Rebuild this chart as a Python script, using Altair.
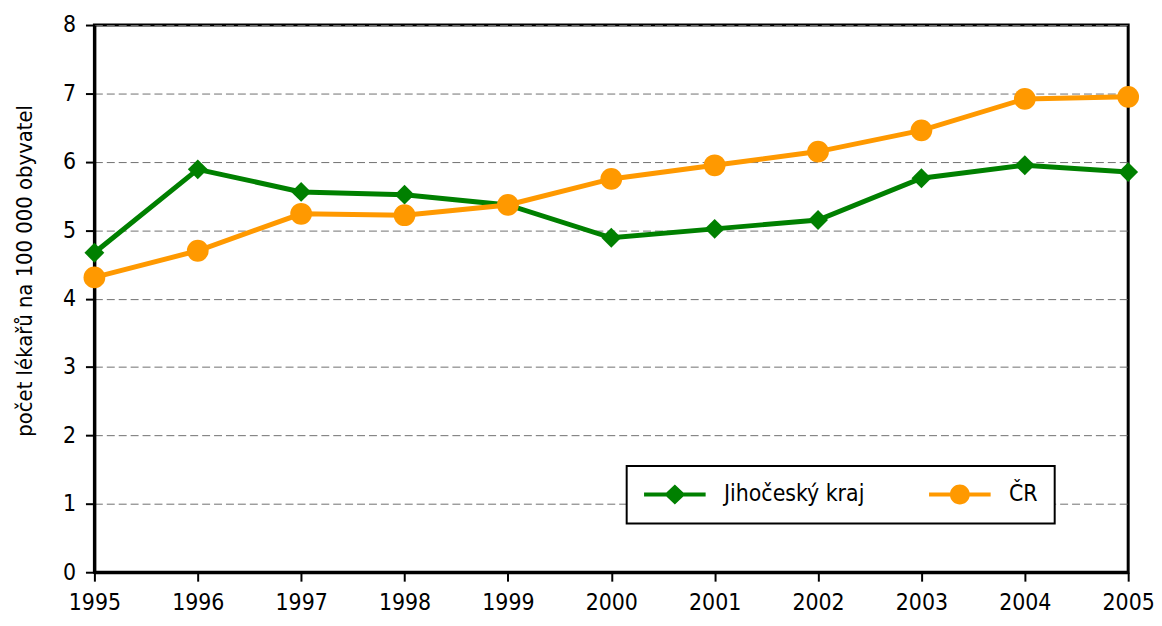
import altair as alt
import pandas as pd

years = [1995, 1996, 1997, 1998, 1999, 2000, 2001, 2002, 2003, 2004, 2005]
jihocesky = [4.67, 5.89, 5.56, 5.52, 5.37, 4.89, 5.02, 5.15, 5.76, 5.95, 5.85]
cr = [4.31, 4.70, 5.24, 5.22, 5.37, 5.75, 5.95, 6.15, 6.46, 6.92, 6.95]
series_names = ["Jihočeský kraj", "ČR"]
colors = ["#008000", "#FF9900"]
y_ticks = [0, 1, 2, 3, 4, 5, 6, 7, 8]

rows = []
for y, a, b in zip(years, jihocesky, cr):
    rows.append({"rok": y, "serie": series_names[0], "hodnota": a})
    rows.append({"rok": y, "serie": series_names[1], "hodnota": b})
df = pd.DataFrame(rows)

FONT = "'Liberation Sans Narrow', 'Arial Narrow', 'DejaVu Sans Condensed', 'Liberation Sans', sans-serif"

diamond_path = "M-3.1,-0.2L-0.85,-0.2L0,-1L0.85,-0.2L3.1,-0.2L3.1,0.2L0.85,0.2L0,1L-0.85,0.2L-3.1,0.2Z"
circle_path = "M-3.1,-0.2L-0.98,-0.2A1,1 0 0 1 0.98,-0.2L3.1,-0.2L3.1,0.2L0.98,0.2A1,1 0 0 1 -0.98,0.2L-3.1,0.2Z"
sym_expr = f"datum.value == 'ČR' ? '{circle_path}' : '{diamond_path}'"

x_enc = alt.X(
    "rok:Q",
    scale=alt.Scale(domain=[1995, 2005], nice=False, zero=False),
    axis=alt.Axis(
        values=years, format="d", title=None, grid=False,
        labelFlush=False, labelOverlap=False,
        labelFont=FONT, labelFontSize=23, labelColor="black", labelPadding=11,
        tickColor="black", tickWidth=2, tickSize=9,
        domainColor="black", domainWidth=3,
    ),
)
y_enc = alt.Y(
    "hodnota:Q",
    scale=alt.Scale(domain=[0, 8], nice=False),
    axis=alt.Axis(
        values=y_ticks, title="počet lékařů na 100 000 obyvatel",
        titleFont=FONT, titleFontSize=22, titleFontWeight="normal", titleColor="black",
        titleX=-70, titleY=247, titleAngle=270, titleAlign="center", titleBaseline="middle",
        labelFont=FONT, labelFontSize=23, labelColor="black", labelPadding=10,
        tickColor="black", tickWidth=2, tickSize=9,
        domainColor="black", domainWidth=3,
        grid=True, gridColor="#707070", gridDash=[8, 4], gridWidth=1,
    ),
)
color_scale = alt.Scale(domain=series_names, range=colors)

legend = alt.Legend(
    title=None, orient="none", legendX=536, legendY=444,
    direction="horizontal", strokeColor="black", fillColor="white",
    padding=17, symbolOffset=20, labelOffset=38, columnPadding=64,
    symbolType={"expr": sym_expr}, symbolSize=400, symbolStrokeWidth=0,
    labelFont=FONT, labelFontSize=23, labelColor="black", labelLimit=400,
)

color_enc = alt.Color("serie:N", scale=color_scale, legend=legend)

lines = alt.Chart(df).mark_line(strokeWidth=5).encode(x=x_enc, y=y_enc, color=color_enc)

pts_j = alt.Chart(df).transform_filter(
    alt.datum.serie == series_names[0]
).mark_point(filled=True, opacity=1, shape="diamond", size=400).encode(x=x_enc, y=y_enc, color=color_enc)

pts_c = alt.Chart(df).transform_filter(
    alt.datum.serie == series_names[1]
).mark_point(filled=True, opacity=1, shape="circle", size=480).encode(x=x_enc, y=y_enc, color=color_enc)

chart = (
    alt.layer(lines, pts_j, pts_c)
    .properties(
        width=1041, height=551,
        autosize=alt.AutoSizeParams(type="none"),
        padding={"left": 87, "top": 15, "right": 26, "bottom": 52},
    )
    .configure(background="white")
    .configure_view(stroke="black", strokeWidth=3)
    .configure_legend(strokeWidth=2)
)

chart.save("out.html", embed_options={"renderer": "svg", "actions": False})
